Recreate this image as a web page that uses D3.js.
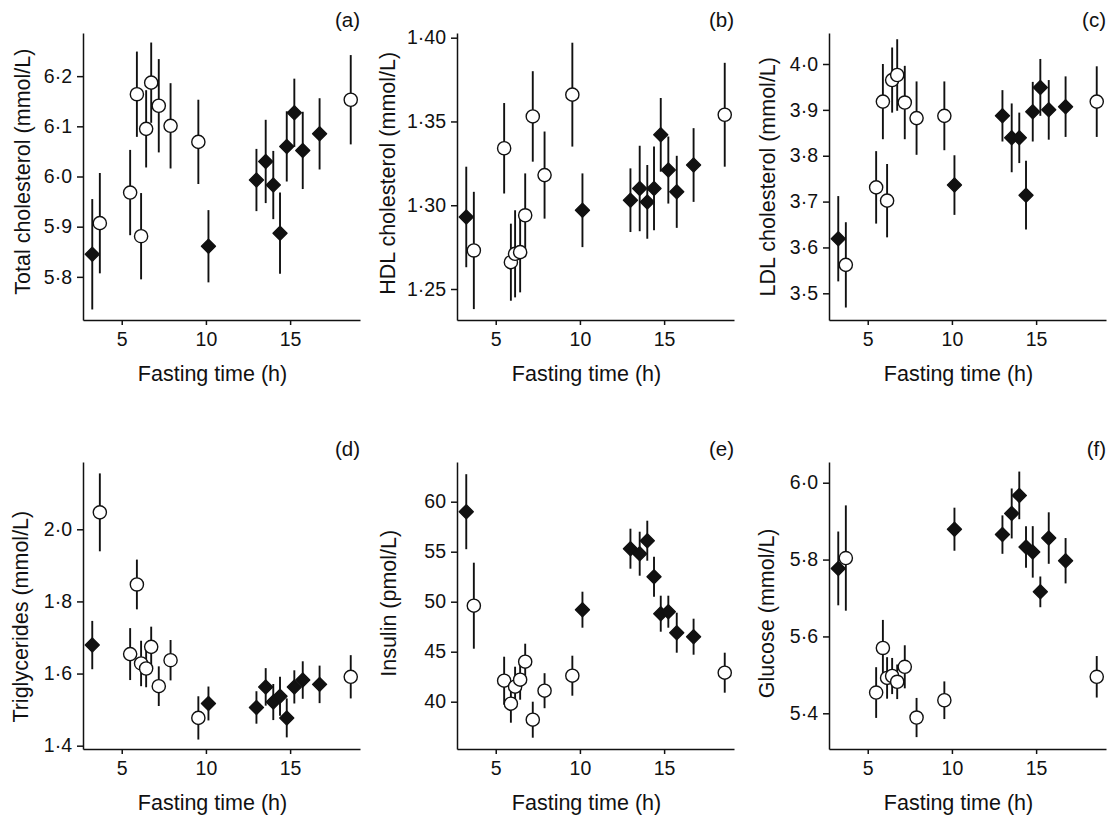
<!DOCTYPE html>
<html><head><meta charset="utf-8">
<script src="https://cdn.jsdelivr.net/npm/d3@7"></script>
<style>
body{margin:0;background:#fff}
svg text{font-family:"Liberation Sans",Arial,Helvetica,sans-serif;fill:#111}
</style>
</head><body>
<svg id="chart" width="1114" height="815"></svg>
<script>
// ---------- data ----------
const fastingOpen   = [3.7, 5.5, 5.9, 6.15, 6.45, 6.75, 7.2, 7.9, 9.55, 18.6];
const fastingFilled = [3.25, 10.15, 13.0, 13.55, 14.0, 14.4, 14.8, 15.25, 15.75, 16.75];
const xTicks = [5, 10, 15];
const xTitle = "Fasting time (h)";

const panelLabels = ["(a)", "(b)", "(c)", "(d)", "(e)", "(f)"];
const yTitles = ["Total cholesterol (mmol/L)", "HDL cholesterol (mmol/L)", "LDL cholesterol (mmol/L)",
                 "Triglycerides (mmol/L)", "Insulin (pmol/L)", "Glucose (mmol/L)"];
const yTicksA = [5.8, 5.9, 6.0, 6.1, 6.2];
const yTicksB = [1.25, 1.30, 1.35, 1.40];
const yTicksC = [3.5, 3.6, 3.7, 3.8, 3.9, 4.0];
const yTicksD = [1.4, 1.6, 1.8, 2.0];
const yTicksE = [40, 45, 50, 55, 60];
const yTicksF = [5.4, 5.6, 5.8, 6.0];

// (a) Total cholesterol
const openA      = [5.907, 5.968, 6.164, 5.881, 6.095, 6.187, 6.141, 6.101, 6.069, 6.153];
const openErrA   = [0.100, 0.085, 0.085, 0.086, 0.077, 0.080, 0.093, 0.085, 0.084, 0.089];
const filledA    = [5.845, 5.861, 5.993, 6.030, 5.983, 5.887, 6.060, 6.127, 6.052, 6.085];
const filledErrA = [0.110, 0.072, 0.062, 0.083, 0.068, 0.081, 0.070, 0.068, 0.077, 0.071];
// (b) HDL cholesterol
const openB      = [1.273, 1.334, 1.266, 1.271, 1.272, 1.294, 1.353, 1.318, 1.366, 1.354];
const openErrB   = [0.035, 0.027, 0.023, 0.026, 0.024, 0.025, 0.027, 0.026, 0.031, 0.031];
const filledB    = [1.293, 1.297, 1.303, 1.310, 1.302, 1.310, 1.342, 1.321, 1.308, 1.324];
const filledErrB = [0.030, 0.022, 0.019, 0.0255, 0.022, 0.025, 0.022, 0.020, 0.0215, 0.022];
// (c) LDL cholesterol
const openC      = [3.562, 3.731, 3.918, 3.702, 3.965, 3.976, 3.916, 3.882, 3.887, 3.918];
const openErrC   = [0.093, 0.079, 0.082, 0.080, 0.071, 0.078, 0.080, 0.080, 0.075, 0.077];
const filledC    = [3.619, 3.736, 3.887, 3.839, 3.839, 3.714, 3.896, 3.949, 3.900, 3.907];
const filledErrC = [0.093, 0.065, 0.056, 0.075, 0.055, 0.075, 0.065, 0.062, 0.065, 0.066];
// (d) Triglycerides
const openD      = [2.047, 1.654, 1.847, 1.628, 1.614, 1.674, 1.565, 1.637, 1.477, 1.591];
const openErrD   = [0.108, 0.072, 0.069, 0.063, 0.052, 0.056, 0.055, 0.056, 0.060, 0.060];
const filledD    = [1.679, 1.517, 1.506, 1.563, 1.521, 1.537, 1.477, 1.563, 1.582, 1.570];
const filledErrD = [0.067, 0.047, 0.045, 0.052, 0.050, 0.054, 0.054, 0.046, 0.052, 0.052];
// (e) Insulin
const openE      = [49.6, 42.1, 39.8, 41.5, 42.2, 44.0, 38.2, 41.1, 42.6, 42.9];
const openErrE   = [4.3, 2.4, 1.9, 2.0, 2.0, 1.8, 1.8, 1.75, 2.0, 2.0];
const filledE    = [59.0, 49.2, 55.3, 54.8, 56.1, 52.5, 48.8, 49.0, 46.9, 46.5];
const filledErrE = [3.75, 1.8, 2.0, 2.2, 2.0, 2.0, 1.8, 1.6, 2.0, 1.8];
// (f) Glucose
const openF      = [5.804, 5.454, 5.570, 5.492, 5.497, 5.482, 5.521, 5.389, 5.434, 5.495];
const openErrF   = [0.137, 0.066, 0.073, 0.054, 0.047, 0.045, 0.056, 0.051, 0.049, 0.054];
const filledF    = [5.777, 5.879, 5.865, 5.920, 5.967, 5.833, 5.820, 5.716, 5.856, 5.797];
const filledErrF = [0.096, 0.056, 0.050, 0.065, 0.062, 0.054, 0.067, 0.040, 0.067, 0.059];

// ---------- layout ----------
const W = 277, H = 287;
const xDomain = [2.7, 19.15];
const panels = [
  {left: 83,  top: 33,  yDomain: [5.714, 6.286], ticks: yTicksA, fmt: ".1f", open: openA, openErr: openErrA, filled: filledA, filledErr: filledErrA, tX: -53.5, tY: 138.7},
  {left: 457, top: 33,  yDomain: [1.2315, 1.4028], ticks: yTicksB, fmt: ".2f", open: openB, openErr: openErrB, filled: filledB, filledErr: filledErrB, tX: -62, tY: 140.3},
  {left: 829, top: 33,  yDomain: [3.4418, 4.0676], ticks: yTicksC, fmt: ".1f", open: openC, openErr: openErrC, filled: filledC, filledErr: filledErrC, tX: -54, tY: 143.7},
  {left: 83,  top: 462, yDomain: [1.3908, 2.1866], ticks: yTicksD, fmt: ".1f", open: openD, openErr: openErrD, filled: filledD, filledErr: filledErrD, tX: -55, tY: 154.7},
  {left: 457, top: 462, yDomain: [35.27, 63.97], ticks: yTicksE, fmt: "d",   open: openE, openErr: openErrE, filled: filledE, filledErr: filledErrE, tX: -61, tY: 141.3},
  {left: 829, top: 462, yDomain: [5.3071, 6.0539], ticks: yTicksF, fmt: ".1f", open: openF, openErr: openErrF, filled: filledF, filledErr: filledErrF, tX: -55, tY: 151.3}
];

const svg = d3.select("#chart");
const diamond = s => `M0,${-s}L${s},0L0,${s}L${-s},0Z`;

panels.forEach((p, i) => {
  const g = svg.append("g").attr("transform", `translate(${p.left},${p.top})`);
  const x = d3.scaleLinear().domain(xDomain).range([0, W]);
  const y = d3.scaleLinear().domain(p.yDomain).range([H, 0]);
  const f = d3.format(p.fmt);

  const yAxis = d3.axisLeft(y).tickValues(p.ticks).tickSize(6).tickPadding(5).tickSizeOuter(0)
    .tickFormat(d => f(d).replace(".", "\u00B7"));
  const gy = g.append("g").call(yAxis);
  const xAxis = d3.axisBottom(x).tickValues(xTicks).tickSize(5).tickPadding(7).tickSizeOuter(0);
  const gx = g.append("g").attr("transform", `translate(0,${H})`).call(xAxis);
  [gx, gy].forEach(a => {
    a.selectAll("path,line").attr("stroke", "#111").attr("stroke-width", 1.5);
    a.selectAll("text").attr("font-size", 19.5).attr("fill", "#111")
      .style("font-family", '"Liberation Sans",Arial,sans-serif');
  });

  // titles
  g.append("text").attr("x", W / 2 - 9).attr("y", H + 61)
    .attr("text-anchor", "middle").attr("font-size", 21.5).text(xTitle);
  g.append("text").attr("transform", `translate(${p.tX},${p.tY}) rotate(-90)`)
    .attr("text-anchor", "middle").attr("font-size", 21.5).text(yTitles[i]);
  g.append("text").attr("x", W).attr("y", -6).attr("text-anchor", "end")
    .attr("font-size", 20.5).text(panelLabels[i]);

  const openPts = fastingOpen.map((t, k) => ({t, v: p.open[k], e: p.openErr[k]}));
  const filledPts = fastingFilled.map((t, k) => ({t, v: p.filled[k], e: p.filledErr[k]}));
  const all = openPts.concat(filledPts);

  g.append("g").selectAll("line").data(all).join("line")
    .attr("x1", d => x(d.t)).attr("x2", d => x(d.t))
    .attr("y1", d => y(d.v - d.e)).attr("y2", d => y(d.v + d.e))
    .attr("stroke", "#111").attr("stroke-width", 1.9);

  g.append("g").selectAll("path").data(filledPts).join("path")
    .attr("transform", d => `translate(${x(d.t)},${y(d.v)})`)
    .attr("d", diamond(7))
    .attr("fill", "#111").attr("stroke", "#111").attr("stroke-width", 1.4)
    .attr("stroke-linejoin", "round");

  g.append("g").selectAll("circle").data(openPts).join("circle")
    .attr("cx", d => x(d.t)).attr("cy", d => y(d.v)).attr("r", 6.6)
    .attr("fill", "#fff").attr("stroke", "#111").attr("stroke-width", 1.4);
});
</script>
</body></html>
